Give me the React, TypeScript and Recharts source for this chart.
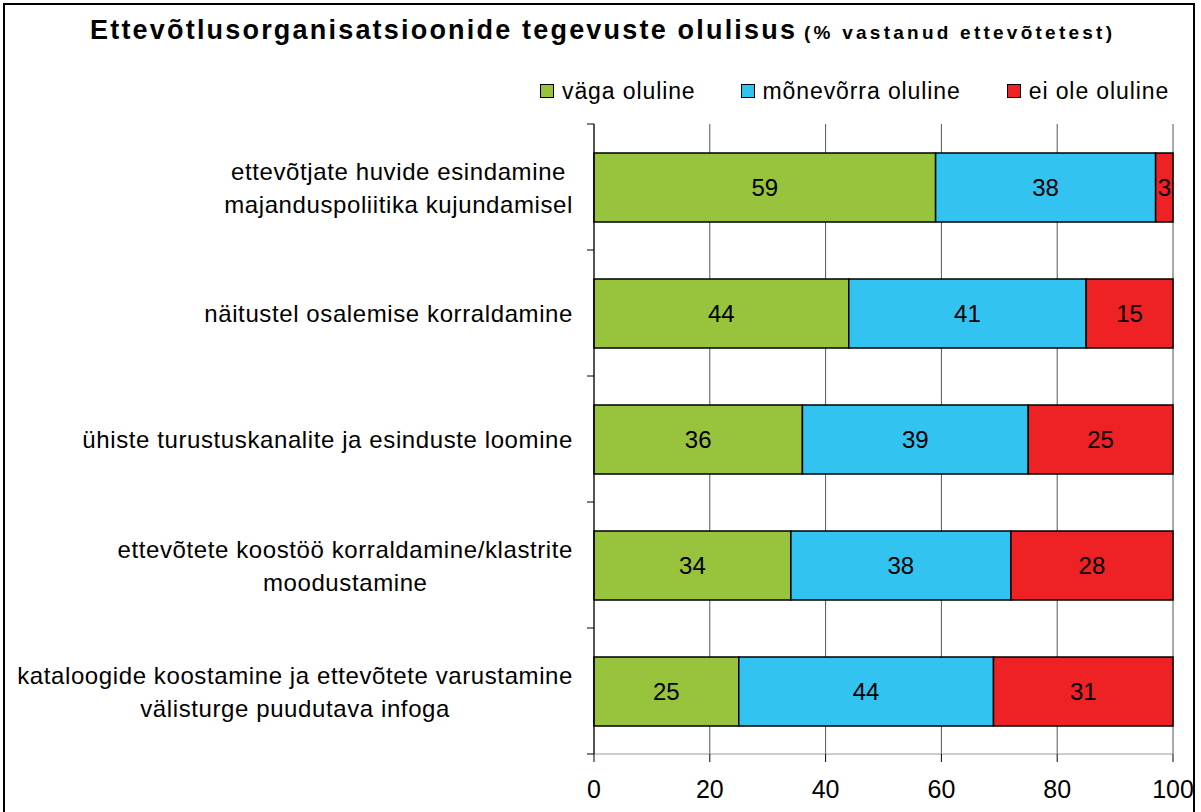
import React from 'react';
import {
  BarChart,
  Bar,
  XAxis,
  YAxis,
  CartesianGrid,
  LabelList,
  Legend,
} from 'recharts';

const categories = [
  'ettevõtjate huvide esindamine majanduspoliitika kujundamisel',
  'näitustel osalemise korraldamine',
  'ühiste turustuskanalite ja esinduste loomine',
  'ettevõtete koostöö korraldamine/klastrite moodustamine',
  'kataloogide koostamine ja ettevõtete varustamine välisturge puudutava infoga',
];
const categoryLines = [
  ['ettevõtjate huvide esindamine', 'majanduspoliitika kujundamisel'],
  ['näitustel osalemise korraldamine'],
  ['ühiste turustuskanalite ja esinduste loomine'],
  ['ettevõtete koostöö korraldamine/klastrite', 'moodustamine'],
  ['kataloogide koostamine ja ettevõtete varustamine', 'välisturge puudutava infoga'],
];
const vagaOluline = [59, 44, 36, 34, 25];
const monevorraOluline = [38, 41, 39, 38, 44];
const eiOleOluline = [3, 15, 25, 28, 31];
const xTicks = [0, 20, 40, 60, 80, 100];

const seriesNames = ['väga oluline', 'mõnevõrra oluline', 'ei ole oluline'];
const colors = ['#98C33D', '#33C3F0', '#EE2224'];

const data = categories.map((name, i) => ({
  name,
  vaga: vagaOluline[i],
  monevorra: monevorraOluline[i],
  ei: eiOleOluline[i],
}));

const FONT = '"Liberation Sans", Arial, sans-serif';
const W = 1201;
const H = 812;
const PLOT_TOP = 124;
const PLOT_BOTTOM = 754;
const BAND = (PLOT_BOTTOM - PLOT_TOP) / categories.length;
const LABEL_SIZE = 24;
const LABEL_SPACING = 0.6;

// measure text width so multi-line labels can be centred inside a right-aligned block
let ctx: CanvasRenderingContext2D | null = null;
const measure = (s: string) => {
  if (!ctx) ctx = document.createElement('canvas').getContext('2d');
  if (!ctx) return s.length * LABEL_SIZE * 0.5;
  ctx.font = `${LABEL_SIZE}px "Liberation Sans"`;
  return ctx.measureText(s).width + s.length * LABEL_SPACING;
};

const CategoryTick = (props: any) => {
  const { x, y, index } = props;
  const lines = categoryLines[index] || [];
  const lh = 33;
  const start = y - ((lines.length - 1) * lh) / 2;
  const right = x - 21;
  const blockW = Math.max(...lines.map(measure));
  const cx = right - blockW / 2;
  return (
    <g>
      <line x1={x - 7} x2={x} y1={y - BAND / 2} y2={y - BAND / 2} stroke="#000" />
      {index === categories.length - 1 && (
        <line x1={x - 7} x2={x} y1={y + BAND / 2} y2={y + BAND / 2} stroke="#000" />
      )}
      <text
        textAnchor="middle"
        dominantBaseline="central"
        fontSize={LABEL_SIZE}
        letterSpacing={LABEL_SPACING}
        fontFamily={FONT}
        fill="#000"
      >
        {lines.map((l, i) => (
          <tspan key={i} x={cx} y={start + i * lh}>
            {l}
          </tspan>
        ))}
      </text>
    </g>
  );
};

const legendGaps = [0, 45, 46];

const LegendContent = () => (
  <div
    style={{
      display: 'flex',
      alignItems: 'center',
      fontFamily: FONT,
      fontSize: 23,
      letterSpacing: 0.9,
      lineHeight: '28px',
      whiteSpace: 'nowrap',
    }}
  >
    {seriesNames.map((n, i) => (
      <div key={n} style={{ display: 'flex', alignItems: 'center', marginLeft: legendGaps[i] }}>
        <span
          style={{
            width: 12,
            height: 12,
            background: colors[i],
            border: '1.5px solid #000',
            marginRight: 8,
            display: 'inline-block',
          }}
        />
        <span>{n}</span>
      </div>
    ))}
  </div>
);

export default function App() {
  return (
    <div style={{ position: 'absolute', left: 0, top: 0, width: W, height: H, background: '#fff', overflow: 'hidden' }}>
      <div
        style={{
          position: 'absolute',
          left: 3,
          top: 3,
          width: 1188,
          height: 900,
          border: '2px solid #000',
        }}
      />
      <svg width={W} height={50} style={{ position: 'absolute', left: 0, top: 0 }}>
        <text x={90} y={39} fontFamily={FONT} fontWeight="bold" fontSize={27} textLength={705} lengthAdjust="spacing" fill="#000">
          Ettevõtlusorganisatsioonide tegevuste olulisus
        </text>
        <text x={804} y={39} fontFamily={FONT} fontWeight="bold" fontSize={19} textLength={308} lengthAdjust="spacing" fill="#000">
          (% vastanud ettevõtetest)
        </text>
      </svg>
      <BarChart
        width={W}
        height={H}
        data={data}
        layout="vertical"
        barSize={69}
        margin={{ top: PLOT_TOP, right: W - 1173, left: 0, bottom: 8 }}
        style={{ position: 'absolute', left: 0, top: 0 }}
      >
        <CartesianGrid horizontal={false} stroke="#555" />
        <XAxis
          type="number"
          domain={[0, 100]}
          ticks={xTicks}
          height={50}
          tickSize={8}
          tickMargin={18}
          axisLine={{ stroke: '#999' }}
          tickLine={{ stroke: '#000' }}
          tick={{ fill: '#000', fontSize: 25, fontFamily: FONT }}
        />
        <XAxis
          xAxisId="top"
          orientation="top"
          type="number"
          domain={[0, 100]}
          height={0}
          tick={false}
          tickLine={false}
          axisLine={{ stroke: '#999' }}
        />
        <YAxis
          type="category"
          dataKey="name"
          width={594}
          tickSize={0}
          tickMargin={0}
          tickLine={false}
          axisLine={{ stroke: '#000' }}
          tick={<CategoryTick />}
          interval={0}
        />
        <Legend
          layout="vertical"
          align="center"
          verticalAlign="middle"
          content={<LegendContent />}
          wrapperStyle={{ position: 'absolute', top: 77, left: 540, width: 'auto' }}
        />
        <Bar dataKey="vaga" name={seriesNames[0]} stackId="a" fill={colors[0]} stroke="#000" strokeWidth={1.5} isAnimationActive={false}>
          <LabelList dataKey="vaga" position="center" fill="#000" fontSize={24} fontFamily={FONT} />
        </Bar>
        <Bar dataKey="monevorra" name={seriesNames[1]} stackId="a" fill={colors[1]} stroke="#000" strokeWidth={1.5} isAnimationActive={false}>
          <LabelList dataKey="monevorra" position="center" fill="#000" fontSize={24} fontFamily={FONT} />
        </Bar>
        <Bar dataKey="ei" name={seriesNames[2]} stackId="a" fill={colors[2]} stroke="#000" strokeWidth={1.5} isAnimationActive={false}>
          <LabelList dataKey="ei" position="center" fill="#000" fontSize={24} fontFamily={FONT} />
        </Bar>
      </BarChart>
    </div>
  );
}
